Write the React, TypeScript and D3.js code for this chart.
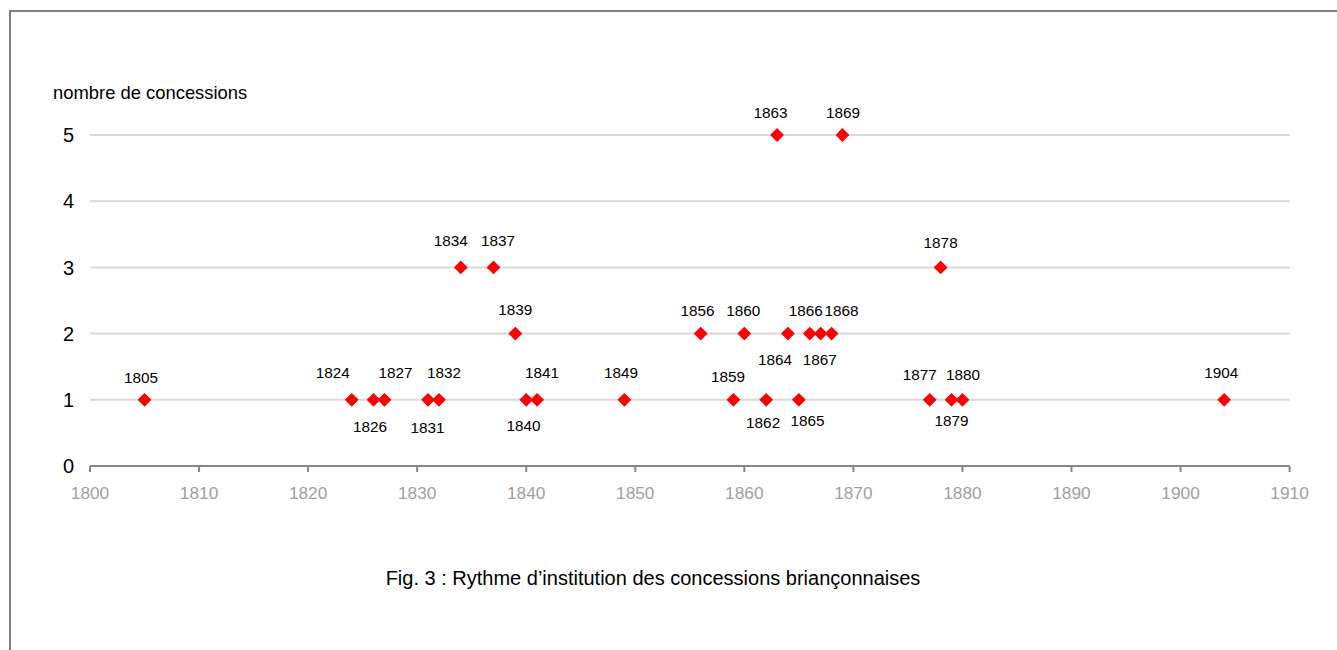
import React from "react";
import * as d3 from "d3";

const years = [1805, 1824, 1826, 1827, 1831, 1832, 1834, 1837, 1839, 1840, 1841, 1849, 1856, 1859, 1860, 1862, 1863, 1864, 1865, 1866, 1867, 1868, 1869, 1877, 1878, 1879, 1880, 1904];
const counts = [1, 1, 1, 1, 1, 1, 3, 3, 2, 1, 1, 1, 2, 1, 2, 1, 5, 2, 1, 2, 2, 2, 5, 1, 3, 1, 1, 1];
const xTicks = [1800, 1810, 1820, 1830, 1840, 1850, 1860, 1870, 1880, 1890, 1900, 1910];
const yTicks = [0, 1, 2, 3, 4, 5];
const yTitle = "nombre de concessions";
const caption = "Fig. 3 : Rythme d\u2019institution des concessions briançonnaises";

// Layout: hand-placed data-label offsets (dx from marker centre, dy to text baseline)
const labelOffset: Record<number, [number, number]> = {
  1805: [-3.5, -16.5],
  1824: [-19, -22],
  1826: [-3.5, 32],
  1827: [11, -22],
  1831: [-0.5, 33],
  1832: [5, -22],
  1834: [-10, -21],
  1837: [4.5, -21],
  1839: [0, -19],
  1840: [-2.7, 31],
  1841: [5, -22],
  1849: [-3.3, -22],
  1856: [-3.2, -18],
  1859: [-5.4, -18],
  1860: [-1, -18],
  1862: [-3, 28],
  1863: [-6.5, -16.7],
  1864: [-13, 31.4],
  1865: [8.7, 26],
  1866: [-4, -18],
  1867: [-1, 31.4],
  1868: [10, -18],
  1869: [0.6, -16.7],
  1877: [-10, -20],
  1878: [0, -19.5],
  1879: [0, 26],
  1880: [0.5, -20],
  1904: [-3, -22],
};

const W = 1337;
const H = 650;
const FONT = "'Liberation Sans', Arial, sans-serif";

export default function App() {
  const x = d3.scaleLinear().domain([1800, 1910]).range([90, 1289.6]);
  const y = d3.scaleLinear().domain([0, 5]).range([466, 135]);
  const diamond = d3.symbol().type(d3.symbolDiamond2).size(2 * 7.8 * 7.8)();
  const data = years.map((yr, i) => ({ yr, c: counts[i], off: labelOffset[yr] || [0, -20] }));

  return (
    <svg width={W} height={H} style={{ position: "absolute", left: 0, top: 0, background: "#fff" }} fontFamily={FONT}>
      <line x1={10} y1={11} x2={W} y2={11} stroke="#808080" strokeWidth={2} />
      <line x1={10} y1={10} x2={10} y2={H} stroke="#808080" strokeWidth={2} />

      {yTicks.filter((t) => t > 0).map((t) => (
        <line key={"g" + t} x1={x(1800)} x2={x(1910)} y1={y(t)} y2={y(t)} stroke="#d9d9d9" strokeWidth={2} />
      ))}
      {yTicks.map((t) => (
        <text key={"yl" + t} x={74} y={y(t)} dy="0.36em" textAnchor="end" fontSize={20} fill="#000">
          {t}
        </text>
      ))}
      <text x={53} y={99} fontSize={18.4} fill="#000">{yTitle}</text>

      <line x1={x(1800)} x2={x(1910)} y1={y(0)} y2={y(0)} stroke="#868686" strokeWidth={2} />
      {xTicks.map((t) => (
        <g key={"xt" + t}>
          <line x1={x(t)} x2={x(t)} y1={y(0)} y2={y(0) + 6} stroke="#868686" strokeWidth={2} />
          <text x={x(t)} y={499} textAnchor="middle" fontSize={17.3} fill="#a0a0a0">{t}</text>
        </g>
      ))}

      {data.map((d) => (
        <g key={"p" + d.yr}>
          <path d={diamond || ""} transform={`translate(${x(d.yr)},${y(d.c)})`} fill="#ff0000" />
          <text x={x(d.yr) + d.off[0]} y={y(d.c) + d.off[1]} textAnchor="middle" fontSize={15.3} fill="#000">
            {d.yr}
          </text>
        </g>
      ))}

      <text x={653} y={585} textAnchor="middle" fontSize={20} fill="#000">{caption}</text>
    </svg>
  );
}
